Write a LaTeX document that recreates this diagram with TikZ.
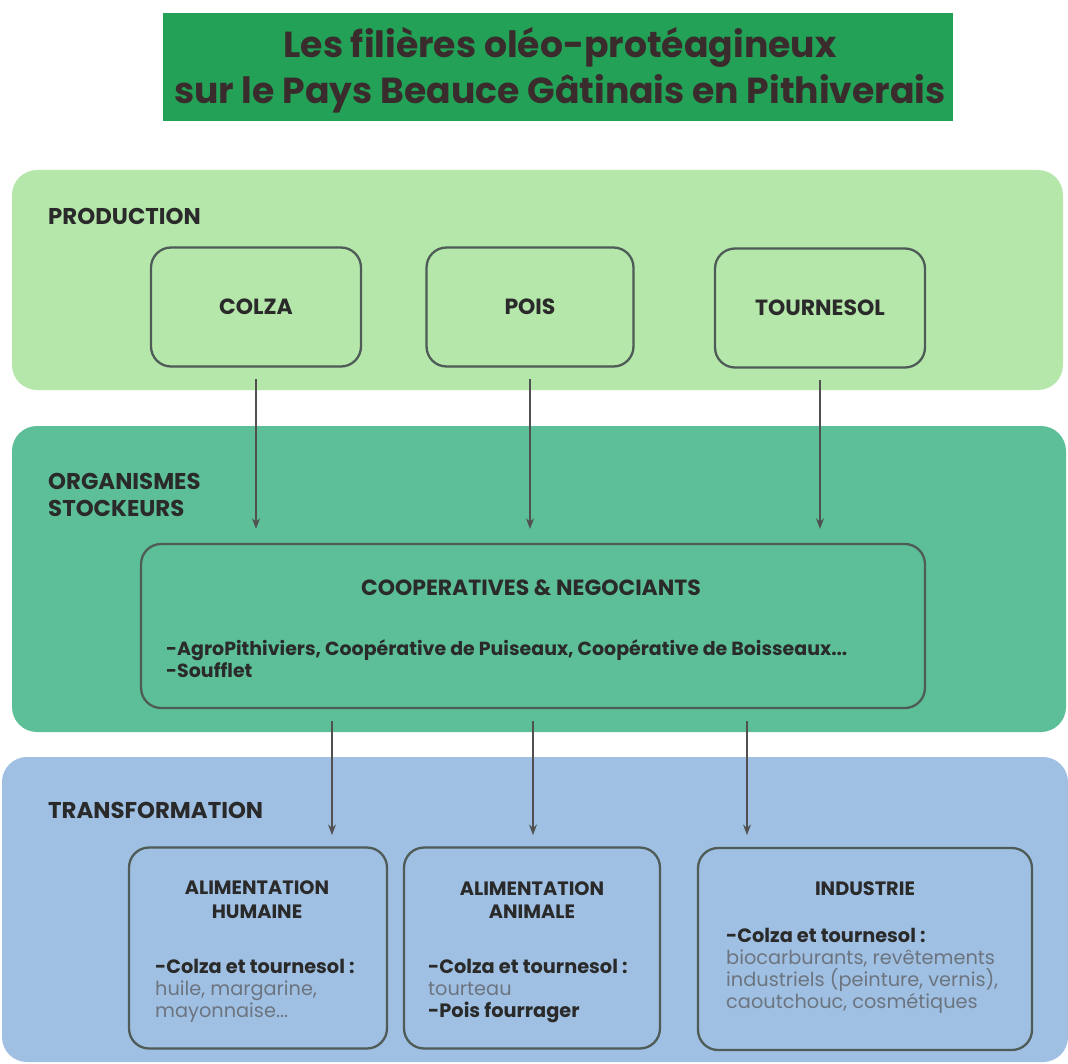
\documentclass[tikz,border=0pt]{standalone}
\usepackage{fontspec}
\setmainfont{Poppins}
\usetikzlibrary{arrows.meta}

\definecolor{titlegreen}{HTML}{22A157}
\definecolor{titletext}{HTML}{3A2B2C}
\definecolor{prodgreen}{HTML}{B5E7AB}
\definecolor{stockgreen}{HTML}{5CBF98}
\definecolor{transblue}{HTML}{9FC0E2}
\definecolor{boxline}{HTML}{4E5B56}
\definecolor{textdark}{HTML}{2A2A2A}
\definecolor{textgray}{HTML}{6C7480}
\definecolor{arrowgray}{HTML}{505050}

\begin{document}
\begin{tikzpicture}[x=0.02cm, y=-0.02cm]
  \tikzstyle{band} = [rounded corners=0.5cm]
  \tikzstyle{box} = [draw=boxline, line width=1.3pt, rounded corners=0.4cm, inner sep=0pt]
  \tikzstyle{label} = [anchor=west, align=left, text=textdark, font=\bfseries\fontsize{13}{15}\selectfont]
  \tikzstyle{head} = [align=center, text=textdark, font=\bfseries\fontsize{11}{13.5}\selectfont]
  \tikzstyle{body} = [anchor=west, align=left, text=textdark, font=\fontsize{11}{12.5}\selectfont]
  \tikzstyle{flow} = [draw=arrowgray, line width=0.7pt, -{Stealth[length=6pt, width=4.5pt]}]
  \useasboundingbox (0,0) rectangle (1068,1064);

  % title
  \node[fill=titlegreen, minimum width=15.8cm, minimum height=2.18cm, inner sep=0pt] (title) at (558, 67) {};
  \node[align=center, text=titletext, font=\bfseries\fontsize{20.6}{26.5}\selectfont] (title-t) at (560, 70)
        {Les filières oléo-protéagineux\\sur le Pays Beauce Gâtinais en Pithiverais};

  % bands
  \fill[band, prodgreen] (12,170) rectangle (1063,390);
  \fill[band, stockgreen] (12,426) rectangle (1066,732);
  \fill[band, transblue] (2,757) rectangle (1068,1062);

  \node[label] (prod-l) at (42, 216) {PRODUCTION};
  \node[label] (stock-l) at (42, 495) {ORGANISMES\\STOCKEURS};
  \node[label] (trans-l) at (42, 810) {TRANSFORMATION};

  % production
  \node[box, minimum width=4.2cm, minimum height=2.38cm, font=\bfseries\fontsize{12.5}{14}\selectfont, text=textdark] (colza) at (256, 307) {COLZA};
  \node[box, minimum width=4.14cm, minimum height=2.38cm, font=\bfseries\fontsize{12.5}{14}\selectfont, text=textdark] (pois) at (530, 307) {POIS};
  \node[box, minimum width=4.2cm, minimum height=2.38cm, font=\bfseries\fontsize{12.5}{14}\selectfont, text=textdark] (tournesol) at (820, 308) {TOURNESOL};

  % stockage
  \node[box, minimum width=15.68cm, minimum height=3.28cm] (coop) at (533, 626) {};
  \node[head, font=\bfseries\fontsize{12.5}{14}\selectfont] (coop-t) at (531, 588) {COOPERATIVES \& NEGOCIANTS};
  \node[body, font=\bfseries\fontsize{10.8}{11.2}\selectfont] (coop-b) at (160, 659)
        {-AgroPithiviers, Coopérative de Puiseaux, Coopérative de Boisseaux...\\-Soufflet};

  % transformation
  \node[box, minimum width=5.16cm, minimum height=4.02cm] (humaine) at (258, 948) {};
  \node[box, minimum width=5.12cm, minimum height=4.02cm] (animale) at (532, 948) {};
  \node[box, minimum width=6.68cm, minimum height=4.04cm] (industrie) at (865, 949) {};

  \node[head] (humaine-t) at (257, 900) {ALIMENTATION\\HUMAINE};
  \node[head] (animale-t) at (532, 900) {ALIMENTATION\\ANIMALE};
  \node[head] (industrie-t) at (865, 889) {INDUSTRIE};

  \node[body] (humaine-b) at (149, 991) {\textbf{-Colza et tournesol :}\\\textcolor{textgray}{huile, margarine,}\\\textcolor{textgray}{mayonnaise...}};
  \node[body] (animale-b) at (422, 991) {\textbf{-Colza et tournesol :}\\\textcolor{textgray}{tourteau}\\\textbf{-Pois fourrager}};
  \node[body] (industrie-b) at (720, 971) {\textbf{-Colza et tournesol :}\\\textcolor{textgray}{biocarburants, revêtements}\\\textcolor{textgray}{industriels (peinture, vernis),}\\\textcolor{textgray}{caoutchouc, cosmétiques}};

  % arrows
  \draw[flow, shorten <=0.22cm, shorten >=0.28cm] (colza) -- (colza |- coop.north);
  \draw[flow, shorten <=0.22cm, shorten >=0.28cm] (pois) -- (pois |- coop.north);
  \draw[flow, shorten <=0.22cm, shorten >=0.28cm] (tournesol) -- (tournesol |- coop.north);

  \coordinate (t1) at (332, 848);
  \coordinate (t2) at (533, 848);
  \coordinate (t3) at (747, 848);
  \draw[flow, shorten <=0.24cm, shorten >=0.26cm] (t1 |- coop.south) -- (t1);
  \draw[flow, shorten <=0.24cm, shorten >=0.26cm] (t2 |- coop.south) -- (t2);
  \draw[flow, shorten <=0.24cm, shorten >=0.26cm] (t3 |- coop.south) -- (t3);
\end{tikzpicture}
\end{document}
